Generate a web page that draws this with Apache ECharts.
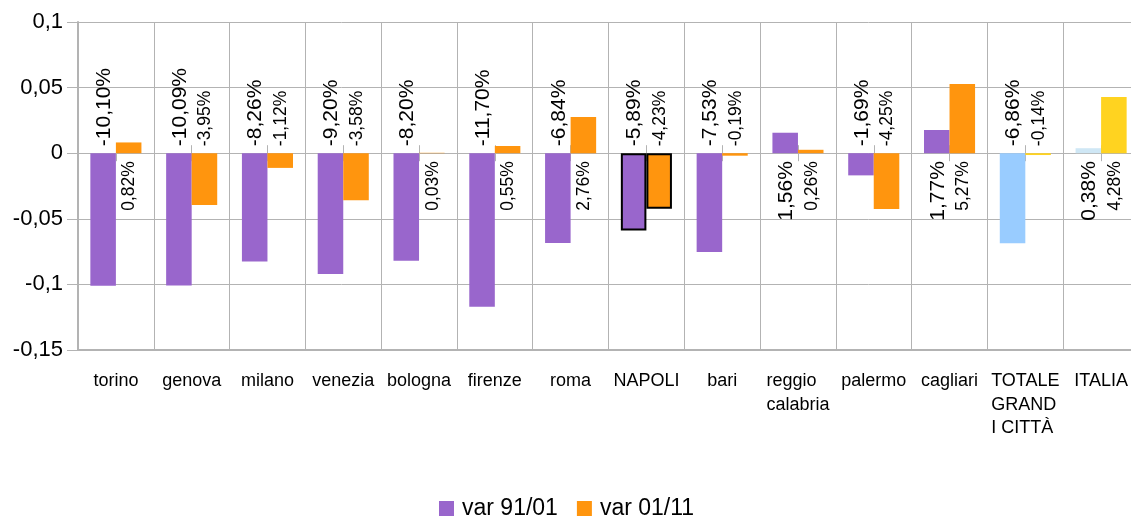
<!DOCTYPE html>
<html>
<head>
<meta charset="utf-8">
<script src="https://cdn.jsdelivr.net/npm/echarts@6/dist/echarts.min.js"></script>
<style>
html,body{margin:0;padding:0;background:#fff;}
#chart{width:1131px;height:521px;}
</style>
</head>
<body>
<div id="chart"></div>
<script>
// ---- data ----
const categories = ['torino', 'genova', 'milano', 'venezia', 'bologna', 'firenze', 'roma', 'NAPOLI', 'bari', 'reggio\ncalabria', 'palermo', 'cagliari', 'TOTALE\nGRAND\nI CITTÀ', 'ITALIA'];
const seriesNames = ['var 91/01', 'var 01/11'];
const var9101 = [-0.1010, -0.1009, -0.0826, -0.0920, -0.0820, -0.1170, -0.0684, -0.0589, -0.0753, 0.0156, -0.0169, 0.0177, -0.0686, 0.0038];
const var0111 = [0.0082, -0.0395, -0.0112, -0.0358, 0.0003, 0.0055, 0.0276, -0.0423, -0.0019, 0.0026, -0.0425, 0.0527, -0.0014, 0.0428];
const yTickLabels = ['-0,15', '-0,1', '-0,05', '0', '0,05', '0,1'];

// ---- styles ----
const FONT = 'Liberation Sans';
const GRID_COLOR = '#b3b3b3';
const baseColors = ['#9966cc', '#ff950e'];
const specialColors = [
  { 12: '#99ccff', 13: '#cfe7f5' },
  { 12: '#ffd320', 13: '#ffd320' }
];
const highlightIndex = 7;
const CAT_GAP = 0.326;
const BAR_FRAC = (1 - CAT_GAP) / 2;
const labelFontSizes = [21, 17.5];

function fmtPct(v) {
  return (v * 100).toFixed(2).replace('.', ',') + '%';
}

function buildBarData(values, s) {
  return values.map((v, i) => {
    const item = { value: v, itemStyle: {} };
    if (specialColors[s][i]) item.itemStyle.color = specialColors[s][i];
    if (i === highlightIndex) {
      item.itemStyle.borderColor = '#000';
      item.itemStyle.borderWidth = 2;
    }
    return item;
  });
}

function labelSeries(values, s) {
  return {
    type: 'custom',
    name: '_label' + s,
    silent: true,
    z: 5,
    data: values.map((v, i) => [i, v]),
    renderItem: function (params, api) {
      const idx = api.value(0);
      const v = api.value(1);
      const p = api.coord([idx, 0]);
      const band = api.size([1, 0])[0];
      const dx = (s === 0 ? -1 : 1) * band * BAR_FRAC / 2 + 1;
      const neg = v < 0;
      return {
        type: 'text',
        x: p[0] + dx,
        y: p[1] + (neg ? -7 : 8),
        rotation: Math.PI / 2,
        style: {
          text: fmtPct(v),
          fontSize: labelFontSizes[s],
          fontFamily: FONT,
          fill: '#000',
          align: neg ? 'left' : 'right',
          verticalAlign: 'middle'
        }
      };
    }
  };
}

const chart = echarts.init(document.getElementById('chart'), null, { renderer: 'canvas' });

const option = {
  backgroundColor: '#fff',
  animation: false,
  grid: { left: 78, width: 1061, top: 22, bottom: 171, containLabel: false, outerBoundsMode: 'none' },
  legend: {
    data: seriesNames,
    left: 439,
    top: 497,
    padding: 0,
    itemWidth: 15,
    itemHeight: 15,
    itemGap: 19,
    icon: 'rect',
    textStyle: { fontFamily: FONT, fontSize: 23, color: '#000', padding: [0, 0, 0, 3] }
  },
  xAxis: [
    {
      type: 'category',
      data: categories,
      position: 'bottom',
      axisLine: { onZero: false, lineStyle: { color: GRID_COLOR, width: 2 } },
      axisTick: { show: false },
      splitLine: { show: true, interval: 0, lineStyle: { color: GRID_COLOR, width: 1 } },
      axisLabel: {
        interval: 0,
        margin: 19,
        formatter: function (val) {
          return val.split('\n').map(s => '{a|' + s + '}').join('\n');
        },
        rich: {
          a: { fontFamily: FONT, fontSize: 18, lineHeight: 23.7, color: '#000', align: 'left' }
        }
      }
    },
    {
      type: 'category',
      data: categories,
      position: 'top',
      axisLine: { show: false, onZero: true, onZeroAxisIndex: 0 },
      axisTick: { show: true, alignWithLabel: true, length: 8, lineStyle: { color: GRID_COLOR } },
      axisLabel: { show: false },
      splitLine: { show: false }
    },
    {
      type: 'category',
      data: categories,
      position: 'top',
      axisLine: { show: false, onZero: true, onZeroAxisIndex: 0 },
      axisTick: { show: true, inside: true, alignWithLabel: true, length: 8, lineStyle: { color: GRID_COLOR } },
      axisLabel: { show: false },
      splitLine: { show: false }
    }
  ],
  yAxis: {
    type: 'value',
    min: -0.15,
    max: 0.1,
    interval: 0.05,
    axisLine: { show: true, lineStyle: { color: GRID_COLOR, width: 2 } },
    axisTick: { show: true, length: 11, lineStyle: { color: GRID_COLOR } },
    splitLine: { show: true, lineStyle: { color: GRID_COLOR, width: 1 } },
    axisLabel: {
      margin: 15,
      fontFamily: FONT,
      fontSize: 22,
      color: '#000',
      formatter: function (val, index) { return yTickLabels[index]; }
    }
  },
  series: [
    {
      name: seriesNames[0],
      type: 'bar',
      data: buildBarData(var9101, 0),
      barGap: 0,
      barCategoryGap: (CAT_GAP * 100) + '%',
      itemStyle: { color: baseColors[0] }
    },
    {
      name: seriesNames[1],
      type: 'bar',
      data: buildBarData(var0111, 1),
      barGap: 0,
      barCategoryGap: (CAT_GAP * 100) + '%',
      itemStyle: { color: baseColors[1] }
    },
    labelSeries(var9101, 0),
    labelSeries(var0111, 1)
  ]
};

chart.setOption(option);
</script>
</body>
</html>
